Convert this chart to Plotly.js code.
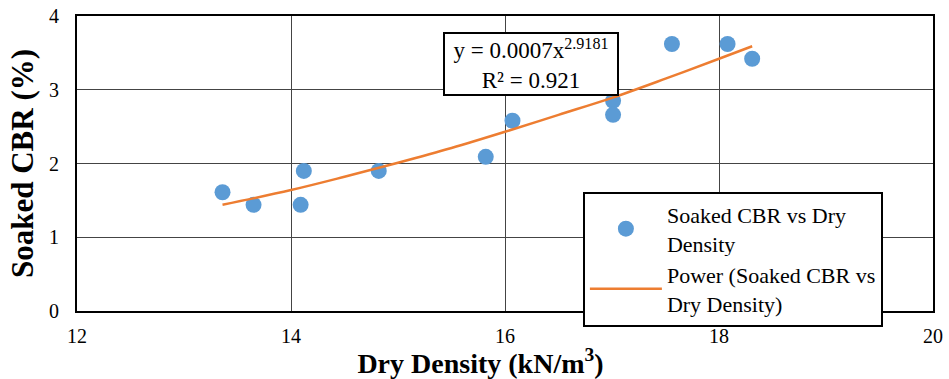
<!DOCTYPE html>
<html><head><meta charset="utf-8">
<script src="https://cdn.plot.ly/plotly-3.0.1.min.js"></script>
<style>body{margin:0;background:#fff}#c{width:949px;height:379px}</style>
</head><body><div id="c"></div>
<script>
const dryDensity = [13.36, 13.65, 14.09, 14.12, 14.82, 15.82, 16.07, 17.01, 17.01, 17.56, 18.08, 18.31];
const soakedCBR  = [1.61, 1.44, 1.44, 1.90, 1.90, 2.09, 2.58, 2.85, 2.66, 3.62, 3.62, 3.42];
const trendX = [13.36, 14.0, 14.5, 15.0, 15.5, 16.0, 16.5, 17.0, 17.5, 18.0, 18.31];
const trendY = [1.44, 1.64, 1.82, 2.01, 2.21, 2.43, 2.66, 2.89, 3.15, 3.42, 3.59];
const xTicks = [12, 14, 16, 18, 20];
const yTicks = [0, 1, 2, 3, 4];
const SERIF = 'Liberation Serif';

const traces = [
  {x: dryDensity, y: soakedCBR, mode: 'markers', type: 'scatter',
   name: 'Soaked CBR vs Dry<br>Density',
   marker: {color: '#5B9BD5', size: 16}},
  {x: trendX, y: trendY, mode: 'lines', type: 'scatter',
   name: 'Power (Soaked CBR vs<br>Dry Density)',
   line: {color: '#ED7D31', width: 2.5, shape: 'spline'}}
];
const layout = {
  width: 949, height: 379,
  margin: {l: 77, r: 16, t: 16, b: 68},
  paper_bgcolor: '#fff', plot_bgcolor: '#fff',
  font: {family: SERIF, size: 20, color: '#000'},
  showlegend: true,
  legend: {x: 0.591, y: 0.405, xanchor: 'left', yanchor: 'top',
    bordercolor: '#000', borderwidth: 2, bgcolor: '#fff', itemwidth: 72,
    font: {family: SERIF, size: 22, color: '#000'}, tracegroupgap: 0},
  xaxis: {range: [12, 20], tickvals: xTicks, ticktext: xTicks.map(String),
    showgrid: true, gridcolor: '#444', gridwidth: 1, zeroline: false,
    showline: true, linecolor: '#000', linewidth: 2, mirror: true, ticks: '',
    ticklabelstandoff: 6,
    tickfont: {family: SERIF, size: 20, color: '#000'},
    title: {text: '<b>Dry Density (kN/m<sup>3</sup>)</b>&nbsp;&nbsp;&nbsp;&nbsp;&nbsp;&nbsp;&nbsp;', font: {family: SERIF, size: 28, color: '#000'}, standoff: 0}},
  yaxis: {range: [0, 4], tickvals: yTicks, ticktext: yTicks.map(String),
    showgrid: true, gridcolor: '#444', gridwidth: 1, zeroline: false,
    showline: true, linecolor: '#000', linewidth: 2, mirror: true, ticks: '',
    ticklabelstandoff: 12,
    tickfont: {family: SERIF, size: 20, color: '#000'},
    title: {text: '<b>Soaked CBR (%)</b>', font: {family: SERIF, size: 31, color: '#000'}, standoff: 6}},
  annotations: [{xref: 'paper', yref: 'paper', x: 0.530, y: 0.836,
    xanchor: 'center', yanchor: 'middle', showarrow: false,
    text: 'y = 0.0007x<sup>2.9181</sup><br>R² = 0.921',
    font: {family: SERIF, size: 23, color: '#000'}, width: 170, height: 58,
    bordercolor: '#000', borderwidth: 2, bgcolor: '#fff', borderpad: 1}]
};
Plotly.newPlot('c', traces, layout, {displayModeBar: false, responsive: false});
</script></body></html>
